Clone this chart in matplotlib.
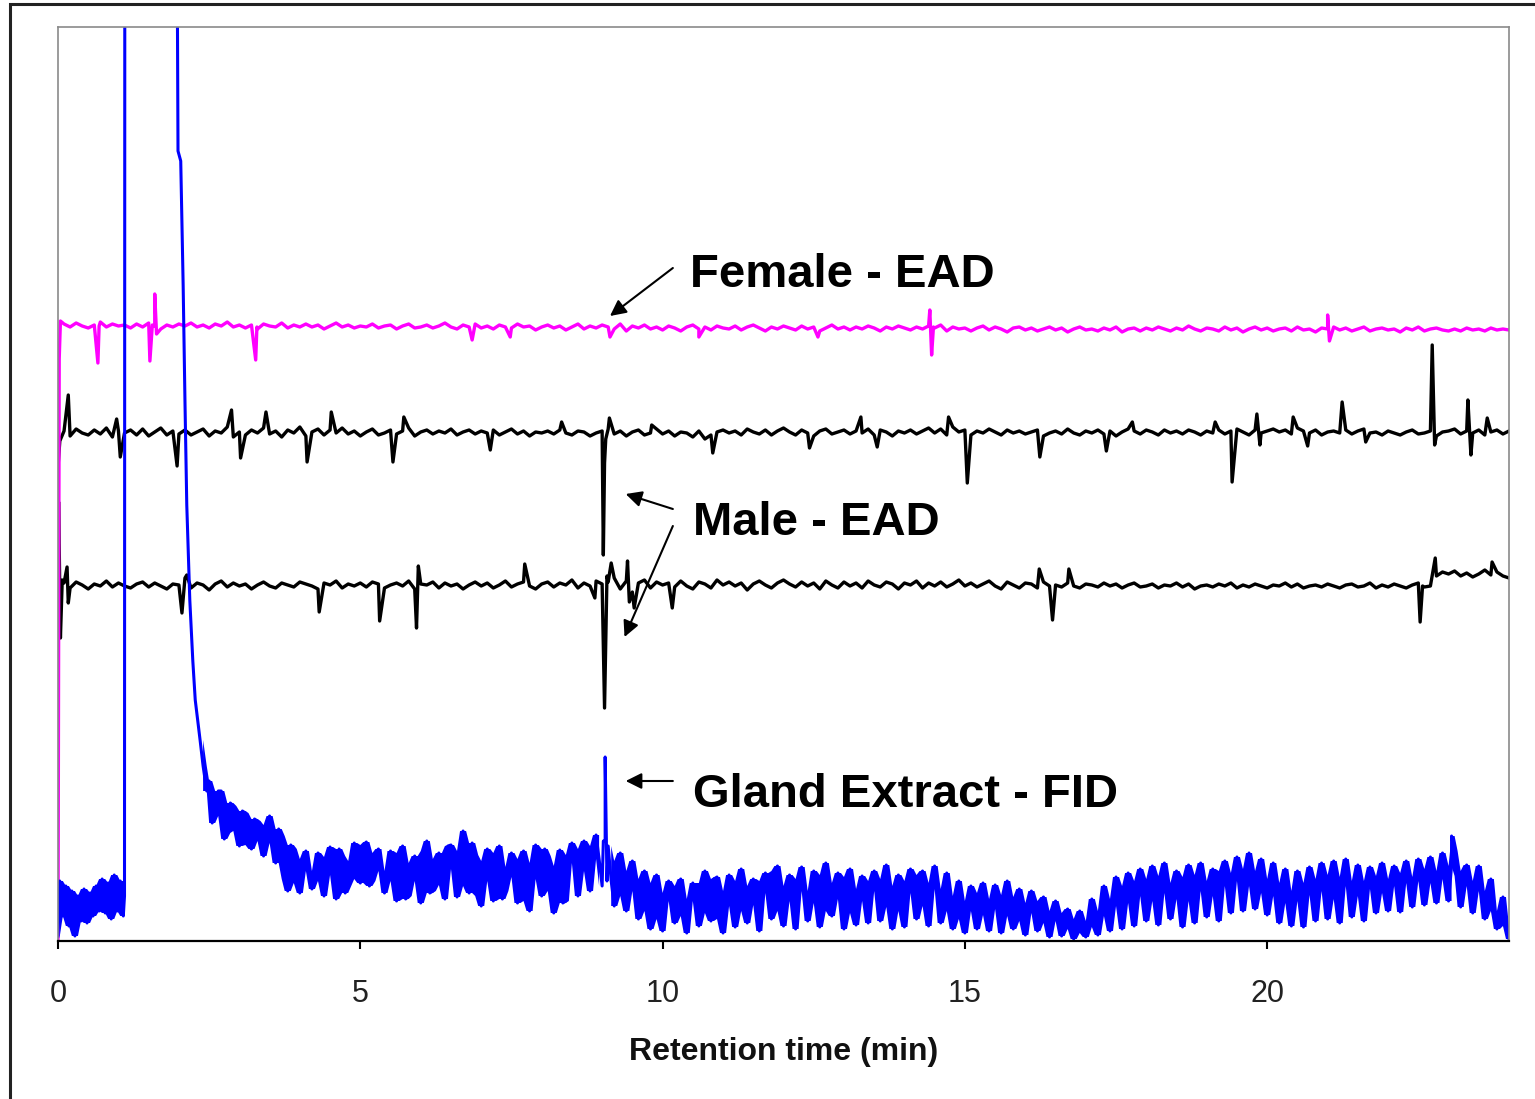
import numpy as np
import matplotlib.pyplot as plt
from matplotlib.patches import Rectangle

plt.rcParams['font.family'] = ['Liberation Sans', 'DejaVu Sans']

# retention time (min) of the regularly sampled points
ead_t = np.arange(1, 241) / 10
fid_t = np.arange(25, 241) / 10
fid_t2 = (np.arange(25, 240) + 0.5) / 10

# Female - EAD, deviation from its own baseline (a.u.)
female_dev = [
    5, 2, 6, 3, 1, 4, 7, 2, 5, 3,
    4, 1, 5, 2, 6, 3, 0, 4, 2, 5,
    3, 6, 2, 4, 1, 5, 3, 7, 2, 4,
    1, 4, 0, 5, 3, 2, 6, 1, 4, 2,
    5, 2, 4, 0, 3, 6, 2, 4, 1, 3,
    2, 5, 1, 3, 4, 0, 3, 5, 1, 2,
    4, 1, 3, 6, 2, 0, 4, 2, 5, 1,
    3, 0, 4, 2, 1, 5, 2, 3, -1, 2,
    4, 1, 3, -1, 2, 5, 0, 3, 1, 4,
    2, 0, 5, -2, 3, 1, 4, 0, 2, -1,
    3, 1, -2, 2, 4, 0, 2, -1, 3, 1,
    0, 3, -1, 2, 4, 1, -2, 2, 0, 3,
    1, -1, 3, 0, 2, -2, 1, 4, 0, 2,
    -1, 2, 0, 3, 1, -2, 2, 0, 3, 1,
    -1, 2, 0, 3, 1, 4, -2, 2, 0, 1,
    -2, 1, 3, -1, 2, 0, -3, 1, 2, -1,
    1, -2, 0, 2, -1, 1, -3, 0, 2, -1,
    0, -2, 1, -1, 2, -3, 0, 1, -2, 1,
    -1, 2, 0, -2, 1, -1, 3, 0, -2, 1,
    0, -2, 2, -1, 1, -3, 0, 2, -1, 1,
    -2, 0, 1, -2, 2, -1, 0, -3, 1, 0,
    2, -1, 1, -2, 0, 2, -2, 0, 1, -1,
    0, -3, 1, -1, 2, -2, 0, 1, -1, -2,
    0, -2, 1, -1, 0, -2, 1, -1, 0, -1]
female_spk_t = [0.0, 0.02, 0.04, 0.66, 0.68, 1.52, 1.56, 1.60, 1.63, 3.27, 3.29,
                6.85, 7.48, 9.13, 10.6, 12.57,
                14.42, 14.45, 14.48, 21.0, 21.03]
female_spk = [-612, -30, 8, -34, 3, -32, 4, 35, -5, -31, 2,
              -11, -8, -8, -8, -8,
              19, -26, 2, 14, -12]

# Male - EAD (upper trace)
male1_dev = [
    2, -3, 4, 0, -2, 3, -1, 5, -4, 2,
    0, 3, -2, 4, -3, 1, 5, -2, 2, -1,
    3, -2, 1, 4, -3, 2, 0, 6, -4, 1,
    -2, 3, 0, 5, -1, 2, -4, 3, 0, 6,
    -3, 1, 4, -2, 3, 0, 5, -1, 2, -3,
    1, 4, -2, 0, 3, -1, 2, 5, -3, 1,
    3, -1, 2, 0, 4, -2, 1, 3, -1, 2,
    0, 3, -2, 1, 4, -1, 2, -3, 1, 0,
    2, -1, 3, 0, -2, 2, 1, -3, 0, 2,
    4, -1, 2, -3, 1, 3, -2, 0, 4, -1,
    2, -3, 1, 0, -4, 2, -6, -2, 1, 3,
    0, 2, -2, 4, 1, -1, 3, -2, 2, 5,
    1, -2, 3, 0, -3, 2, 4, -1, 1, 3,
    -1, 2, 0, 4, -2, 3, 1, -3, 2, 0,
    3, -1, 2, 5, 0, 4, -2, 6, 1, 3,
    -2, 2, 0, 4, 1, -2, 3, 0, 2, -1,
    1, 3, -3, 0, 2, -1, 4, 0, -2, 2,
    0, 3, -1, 2, -3, 1, 4, 2, -1, 3,
    1, -2, 3, 0, 2, -1, 3, 1, -2, 2,
    0, 3, -1, 2, 4, 1, -2, 3, 0, 2,
    4, 1, 3, -1, 5, 2, 0, 3, -2, 1,
    2, 0, 3, -1, 2, 4, 0, 1, -2, 2,
    0, -2, 1, 3, -1, 0, 2, -3, 1, 2,
    4, -1, 2, 0, 3, -2, 1, 3, -1, 2]
male1_spk_t = [0.0, 0.03, 0.17, 0.97, 1.03, 1.97, 2.87, 3.02, 3.44, 4.12, 4.52,
               5.54, 5.72, 7.15, 8.33, 9.02, 9.04, 9.06, 9.12, 9.82, 10.83,
               12.43, 13.28, 13.55, 14.73, 15.04, 16.24, 17.34, 17.77, 19.14,
               19.42, 19.83, 19.88, 20.43, 20.67, 21.24, 21.63, 22.73, 22.77,
               23.32, 23.37, 23.64]
male1_spk = [-34, -8, 38, 14, -24, -33, 23, -25, 21, -29, 21,
             -29, 16, -17, 11, -122, -30, -6, 15, 8, -20,
             -15, 16, -14, 16, -50, -24, -18, 11, 11,
             -49, 19, -12, 16, -13, 31, -9, 88, -12,
             33, -22, 15]

# Male - EAD (lower trace)
male2_dev = [
    3, -2, 4, 1, -3, 2, 0, 5, -1, 3,
    0, -2, 2, 4, -1, 3, 0, -3, 2, 1,
    8, -2, 3, 1, -4, 2, 5, -1, 3, 0,
    2, -3, 1, 4, 0, -2, 3, 1, -1, 4,
    2, 0, -3, 3, 1, 5, -2, 2, 0, 3,
    -1, 4, 2, -2, 1, 3, 0, 5, -3, 2,
    1, 4, -2, 3, 0, 2, -3, 1, 4, 0,
    3, -2, 1, 5, -1, 2, 4, 0, -3, 2,
    4, -1, 3, 1, 6, -2, 3, 0, 5, 2,
    4, 8, -3, 5, -6, 3, 6, -2, 4, 1,
    3, -1, 5, 0, -3, 4, 2, -2, 6, 1,
    4, 0, 3, -4, 2, 5, 1, -2, 3, 6,
    2, -1, 4, 0, 3, -3, 5, 1, -2, 4,
    0, 3, -2, 5, 1, -1, 4, 2, -3, 3,
    1, 5, -2, 3, 0, 4, -1, 2, 6, 0,
    3, -1, 2, 5, 0, -3, 4, 1, -2, 3,
    2, -2, 4, 0, 1, -1, 3, 0, -2, 2,
    1, -1, 3, 0, 2, -2, 1, 3, -1, 0,
    2, -2, 1, 0, 3, -1, 2, -3, 0, 1,
    -1, 2, 0, 3, -2, 1, -1, 2, 0, -2,
    1, 0, 3, -1, 2, -2, 0, 1, -1, 2,
    0, -2, 1, 2, -1, 0, 3, -2, 1, -1,
    2, 0, -2, 1, 3, -1, 0, 10, 14, 12,
    15, 10, 13, 9, 12, 16, 11, 14, 10, 8]
male2_spk_t = [0.0, 0.01, 0.04, 0.07, 0.15, 0.17, 2.05, 2.13, 4.32, 5.32, 5.93,
               5.96, 7.72, 8.88, 9.04, 9.08, 9.15, 9.42, 9.45, 9.53, 10.16,
               16.23, 16.45, 16.72, 22.53, 22.57, 22.78, 23.72]
male2_spk = [-10, 84, -52, 6, 19, -17, -27, 11, -26, -35, -42,
             20, 22, -12, -122, 10, 23, 25, -16, -22, -22,
             17, -34, 17, -36, 0, 28, 24]

# Gland Extract - FID (a.u.), samples at whole tenths of a minute
fid_vals = [
    160, 125, 150, 108, 135, 95, 128, 92, 120, 85,
    125, 78, 105, 50, 92, 48, 90, 52, 88, 45,
    94, 42, 85, 55, 98, 58, 99, 60, 92, 48,
    90, 40, 95, 45, 85, 38, 100, 50, 88, 42,
    96, 44, 110, 48, 86, 35, 92, 40, 95, 50,
    88, 38, 90, 30, 96, 45, 85, 28, 91, 40,
    98, 45, 100, 50, 106, 55, 95, 35, 88, 30,
    80, 22, 70, 12, 66, 10, 60, 18, 62, 8,
    58, 15, 70, 20, 64, 8, 66, 14, 72, 18,
    62, 10, 68, 22, 75, 15, 66, 12, 74, 20,
    70, 14, 78, 25, 68, 12, 72, 16, 65, 18,
    70, 20, 76, 12, 66, 14, 72, 22, 70, 15,
    75, 18, 68, 12, 60, 8, 55, 12, 58, 10,
    56, 8, 60, 12, 52, 6, 50, 10, 44, 4,
    40, 5, 32, 2, 30, 4, 42, 6, 55, 10,
    64, 12, 68, 15, 72, 20, 75, 16, 78, 22,
    70, 14, 76, 18, 78, 24, 72, 20, 80, 28,
    84, 30, 88, 32, 82, 26, 78, 18, 72, 15,
    70, 14, 74, 20, 78, 22, 80, 18, 82, 24,
    76, 20, 74, 28, 78, 30, 75, 29, 80, 34,
    82, 36, 84, 38, 88, 40, 90, 34, 76, 28,
    75, 22, 62, 12, 44, 2]
# samples half way between them
fid_vals2 = [
    118, 150, 102, 138, 110, 130, 96, 122, 100, 116,
    98, 112, 62, 96, 58, 82, 70, 60, 84, 66,
    70, 92, 48, 80, 62, 96, 55, 88, 70, 60,
    68, 88, 42, 78, 60, 90, 48, 82, 56, 95,
    72, 90, 55, 98, 45, 80, 60, 88, 42, 74,
    64, 82, 40, 78, 62, 92, 50, 75, 38, 86,
    78, 92, 70, 95, 82, 100, 60, 80, 45, 70,
    50, 62, 30, 58, 22, 48, 40, 55, 25, 42,
    40, 58, 28, 62, 22, 50, 35, 60, 30, 55,
    36, 60, 48, 70, 30, 55, 40, 62, 50, 38,
    45, 66, 30, 58, 42, 64, 28, 52, 40, 60,
    50, 62, 34, 55, 30, 60, 48, 66, 35, 58,
    52, 40, 30, 45, 22, 40, 30, 48, 26, 42,
    32, 46, 25, 44, 20, 38, 28, 40, 18, 30,
    20, 28, 12, 22, 8, 20, 14, 30, 25, 42,
    35, 55, 38, 60, 45, 62, 40, 65, 48, 58,
    42, 64, 40, 66, 50, 60, 45, 70, 55, 68,
    60, 72, 55, 70, 48, 62, 45, 58, 38, 50,
    40, 58, 46, 62, 50, 66, 42, 64, 55, 60,
    45, 60, 52, 65, 48, 62, 55, 68, 58, 64,
    60, 72, 58, 70, 62, 75, 65, 70, 55, 60,
    50, 44, 30, 28, 15]
fid_pk_t = [0.0, 0.03, 0.08, 0.13, 0.18, 0.23, 0.28, 0.33, 0.38, 0.43, 0.48,
            0.53, 0.58, 0.63, 0.68, 0.73, 0.78, 0.83, 0.88, 0.93, 0.98, 1.03,
            1.08, 1.10, 1.105, 1.97, 1.985, 2.03, 2.07, 2.10, 2.13, 2.18, 2.23,
            2.27, 2.35, 2.40, 2.46, 9.02, 9.05, 9.08, 23.05]
fid_pk = [5, 60, 25, 55, 15, 50, 5, 45, 20, 52, 18,
          48, 25, 55, 30, 62, 28, 58, 22, 66, 30, 60,
          25, 45, 1000, 1000, 790, 780, 656, 540, 436, 341, 280,
          241, 201, 175, 150, 100, 184, 60, 105]


def merge(t, v, te, ve):
    t = np.concatenate([t, te])
    v = np.concatenate([v, ve]).astype(float)
    o = np.argsort(t, kind='stable')
    return t[o], v[o]


fig = plt.figure(figsize=(15.35, 10.99), dpi=100)
ax = fig.add_axes([58 / 1535, 1 - 941 / 1099, 1451 / 1535, 914 / 1099])

t, v = merge(ead_t, male1_dev, male1_spk_t, male1_spk)
ax.plot(t, v + 508, color='black', lw=2.4)
t, v = merge(ead_t, male2_dev, male2_spk_t, male2_spk)
ax.plot(t, v + 355, color='black', lw=2.4)
t, v = merge(ead_t, female_dev, female_spk_t, female_spk)
ax.plot(t, v + 612, color='#FF00FF', lw=2.4)

t, v = merge(fid_t, fid_vals, fid_t2, fid_vals2)
t, v = merge(t, v, fid_pk_t, fid_pk)
# the noisy FID baseline prints as a solid band: fill the local min/max of the trace
vp = np.pad(v, 1, mode='edge')
lo = np.min([vp[:-2], vp[1:-1], vp[2:]], axis=0)
hi = np.max([vp[:-2], vp[1:-1], vp[2:]], axis=0)
band = (t <= 1.09) | ((t >= 2.4) & ((t < 9.0) | (t > 9.1)))
ax.fill_between(t, lo, hi, where=band, color='#0000FF', lw=0)
ax.plot(t, v, color='#0000FF', lw=2.2)

ax.set_xlim(0, 24)
ax.set_ylim(0, 914)
ax.set_yticks([])
ax.set_xticks([0, 5, 10, 15, 20])
ax.tick_params(axis='x', direction='out', length=6, width=1.5, pad=21,
               labelsize=22, labelcolor='#222222')
for s in ['top', 'left', 'right']:
    ax.spines[s].set_color('#8a8a8a')
    ax.spines[s].set_linewidth(1.2)
ax.spines['bottom'].set_linewidth(1.6)

ax.set_xlabel('Retention time (min)', fontsize=23, fontweight='bold', color='#111111')
ax.xaxis.set_label_coords(0.5, -0.105)

txt = dict(fontsize=34, fontweight='bold', va='baseline', ha='left')
ax.text(10.45, 654, 'Female - EAD', **txt)
ax.text(10.50, 406, 'Male - EAD', **txt)
ax.text(10.50, 134, 'Gland Extract - FID', **txt)

arr = dict(arrowstyle='-|>', color='black', lw=1.5, mutation_scale=24,
           shrinkA=0, shrinkB=0)
ax.annotate('', xy=(9.13, 625), xytext=(10.17, 673), arrowprops=arr)
ax.annotate('', xy=(9.39, 447), xytext=(10.17, 432), arrowprops=arr)
ax.annotate('', xy=(9.37, 304), xytext=(10.17, 415), arrowprops=arr)
ax.annotate('', xy=(9.39, 160), xytext=(10.17, 160), arrowprops=arr)

fig.add_artist(Rectangle((9.5 / 1535, -0.1), 1.2, 1.1 - 4.3 / 1099,
                         transform=fig.transFigure, fill=False,
                         edgecolor='#222222', lw=2.2, clip_on=False))

fig.savefig('out.png', dpi=100)
